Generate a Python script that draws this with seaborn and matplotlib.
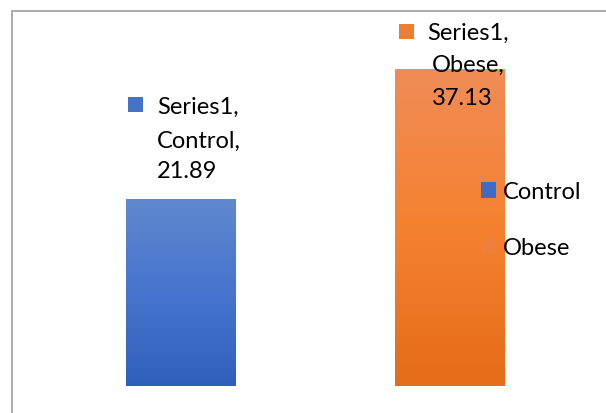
import numpy as np
import pandas as pd
import matplotlib
matplotlib.use("Agg")
import matplotlib.pyplot as plt
import seaborn as sns
from matplotlib.colors import LinearSegmentedColormap
from matplotlib.patches import Patch
from matplotlib.lines import Line2D
from matplotlib.transforms import offset_copy

# ---- data ----
categories = ["Control", "Obese"]
values = [21.89, 37.13]
series_name = "Series1"
value_labels = ["21.89", "37.13"]

# ---- style ----
base_colors = ["#4472C4", "#ED7D31"]
gradients = [["#6088CD", "#4775CF", "#2E60BB"],
             ["#F08C56", "#F5812F", "#E56C18"]]
legend_colors = ["#3F6CC3", "#F07E3C"]
# label layout offsets (pixels) relative to bar top-centre: square, text lines
label_square = [(-45.5, 95), (-44.5, 38.5)]
label_lines = [[(-23.5, 86), (-23.5, 52.3), (-23.5, 22)],
               [(-23.0, 30), (-18.0, -2.3), (-18.0, -35)]]
FS = 17

sns.set_theme(style="white")
plt.rcParams["font.family"] = ["Lato", "DejaVu Sans"]

W, H = 606, 414
fig = plt.figure(figsize=(W / 100, H / 100), dpi=100)
ax = fig.add_axes([45.75 / W, 27 / H, 539 / W, 341.5 / H])

df = pd.DataFrame({"group": categories, "value": values})
sns.barplot(data=df, x="group", y="value", hue="group", palette=base_colors,
            width=0.405, ax=ax, legend=False, saturation=1)

ax.set_xlim(-0.5, 1.5)
ax.set_ylim(0, 40)

# gradient fill clipped to each bar
for patch, stops in zip(ax.patches, gradients):
    x0, y0 = patch.get_x(), patch.get_y()
    w, h = patch.get_width(), patch.get_height()
    cmap = LinearSegmentedColormap.from_list("g", stops[::-1])
    grad = np.linspace(1, 0, 256).reshape(-1, 1)
    im = ax.imshow(grad, cmap=cmap, extent=(x0, x0 + w, y0, y0 + h),
                   aspect="auto", origin="upper", zorder=patch.get_zorder() + 0.1,
                   interpolation="bilinear")
    im.set_clip_path(patch)
    patch.set_edgecolor("none")

ax.set_xlim(-0.5, 1.5)
ax.set_ylim(0, 40)
ax.set_axis_off()

# data labels (Excel style: legend key + "Series, Category, Value")
for i, (cat, val, lab) in enumerate(zip(categories, values, value_labels)):
    sx, sy = label_square[i]
    tr = offset_copy(ax.transData, fig=fig, x=sx, y=sy, units="dots")
    ax.plot([i], [val], marker="s", markersize=10.8, color=base_colors[i],
            markeredgewidth=0, transform=tr, zorder=5, clip_on=False)
    lines = [series_name + ",", cat + ",", lab]
    for (dx, dy), txt in zip(label_lines[i], lines):
        tr = offset_copy(ax.transData, fig=fig, x=dx, y=dy, units="dots")
        ax.text(i, val, txt, transform=tr, ha="left", va="baseline",
                fontsize=FS, color="#000000", zorder=6, clip_on=False)

# legend
handles = [Patch(facecolor=c, edgecolor="none", label=l)
           for c, l in zip(legend_colors, categories)]
leg = ax.legend(handles=handles, loc="upper left",
                bbox_to_anchor=(481 / W, 1 - 182 / H),
                bbox_transform=fig.transFigure, frameon=False, fontsize=FS,
                handlelength=0.64, handleheight=0.64, handletextpad=0.3,
                labelspacing=1.47, borderpad=0, borderaxespad=0)
for t in leg.get_texts():
    t.set_color("#000000")

# chart border (top & left visible)
fig.add_artist(Line2D([11.5 / W, 11.5 / W], [0, 1 - 11.5 / H],
                      transform=fig.transFigure, color="#A6A6A6", lw=1.3))
fig.add_artist(Line2D([11.5 / W, 1], [1 - 11.5 / H, 1 - 11.5 / H],
                      transform=fig.transFigure, color="#A6A6A6", lw=1.3))

fig.savefig("out.png", dpi=100, facecolor="white")
